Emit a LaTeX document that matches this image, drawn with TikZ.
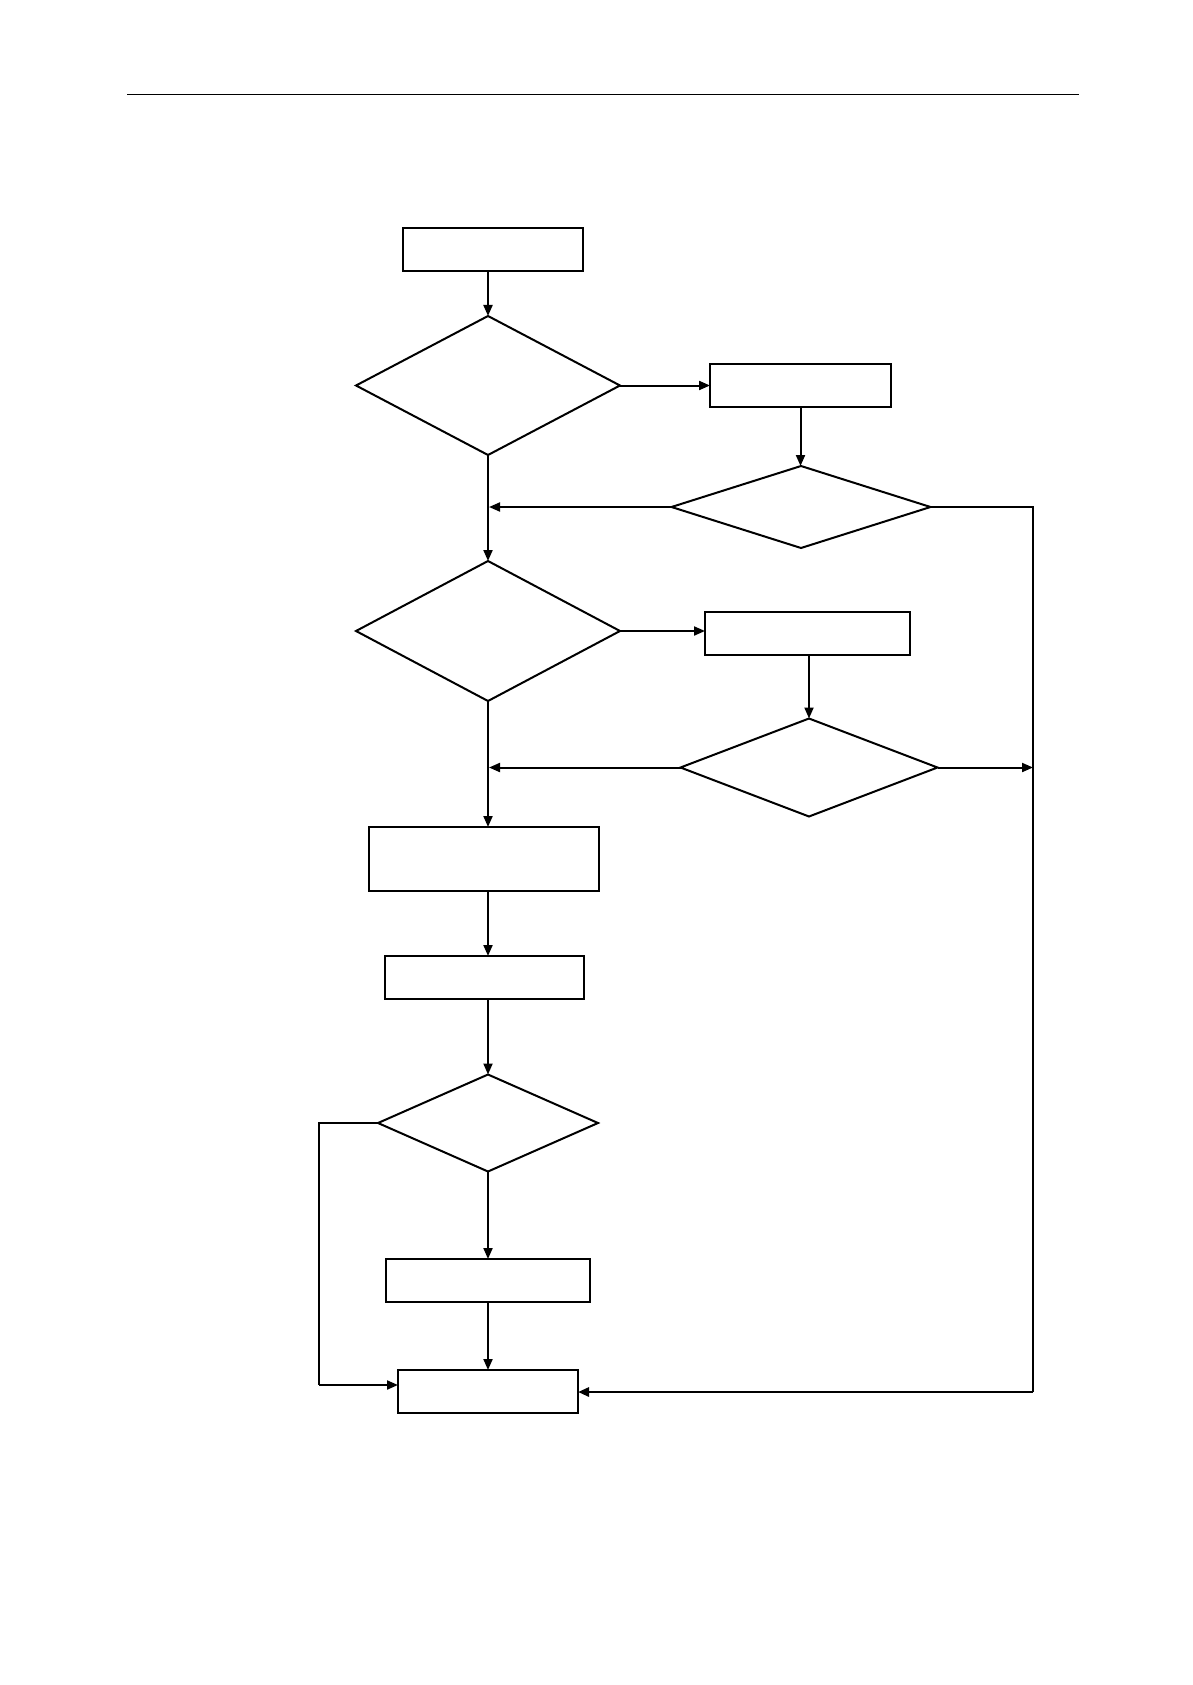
\documentclass[tikz,border=0pt]{standalone}
\usetikzlibrary{shapes.geometric,arrows.meta}
\begin{document}
\begin{tikzpicture}[x=1pt,y=-1pt,
  box/.style={draw,rectangle,line width=2.1pt,inner sep=0pt,outer sep=0pt},
  dia/.style={draw,diamond,line width=2pt,inner sep=0pt,outer sep=0pt},
  conn/.style={line width=2pt,-{Triangle[length=11pt,width=9pt]}},
  plain/.style={line width=2pt}]
\useasboundingbox (0,0) rectangle (1192,1685);
\draw[line width=1.3pt] (127,94.6) -- (1079,94.6);
\node[box,minimum width=180pt,minimum height=43pt] (b1) at (493,249.5) {};
\node[dia,minimum width=264pt,minimum height=139pt] (d1) at (488,385.5) {};
\node[box,minimum width=181pt,minimum height=43pt] (b2) at (800.5,385.5) {};
\node[dia,minimum width=259pt,minimum height=82pt] (d2) at (801,507) {};
\node[dia,minimum width=264pt,minimum height=140pt] (d3) at (488,631) {};
\node[box,minimum width=205pt,minimum height=43pt] (b3) at (807.5,633.5) {};
\node[dia,minimum width=257pt,minimum height=98pt] (d4) at (809,767.5) {};
\node[box,minimum width=230pt,minimum height=64pt] (b4) at (484,859) {};
\node[box,minimum width=199pt,minimum height=43pt] (b5) at (484.5,977.5) {};
\node[dia,minimum width=220pt,minimum height=97pt] (d5) at (488,1123) {};
\node[box,minimum width=204pt,minimum height=43pt] (b6) at (488,1280.5) {};
\node[box,minimum width=180pt,minimum height=43pt] (b7) at (488,1391.5) {};
\coordinate (m2) at (489,507);
\coordinate (m4) at (489,767.5);
\coordinate (r2) at (1033,507);
\coordinate (r4) at (1033,767.5);
\coordinate (rb) at (1033,1392);
\coordinate (l5) at (319,1123);
\coordinate (lb) at (319,1385);
\draw[conn] (d1.north |- b1.south) -- (d1.north);
\draw[conn] (d1.east) -- (b2.west);
\draw[conn] (b2.south) -- (b2.south |- d2.north);
\draw[conn] (d2.west) -- (m2);
\draw[plain] (d2.east) -- (r2) -- (rb);
\draw[conn,line width=2.8pt] (rb) -- (b7.east |- rb);
\draw[conn] (d1.south) -- (d3.north);
\draw[conn] (d3.east) -- (b3.west |- d3.east);
\draw[conn] (b3.south -| d4.north) -- (d4.north);
\draw[conn] (d4.west) -- (m4);
\draw[conn] (d4.east) -- (r4);
\draw[conn] (d3.south) -- (d3.south |- b4.north);
\draw[conn] (d3.south |- b4.south) -- (d3.south |- b5.north);
\draw[conn] (d3.south |- b5.south) -- (d5.north);
\draw[conn] (d5.south) -- (b6.north);
\draw[conn] (b6.south) -- (b7.north);
\draw[plain] (d5.west) -- (l5) -- (lb);
\draw[conn] (lb) -- (b7.west |- lb);
\end{tikzpicture}
\end{document}
